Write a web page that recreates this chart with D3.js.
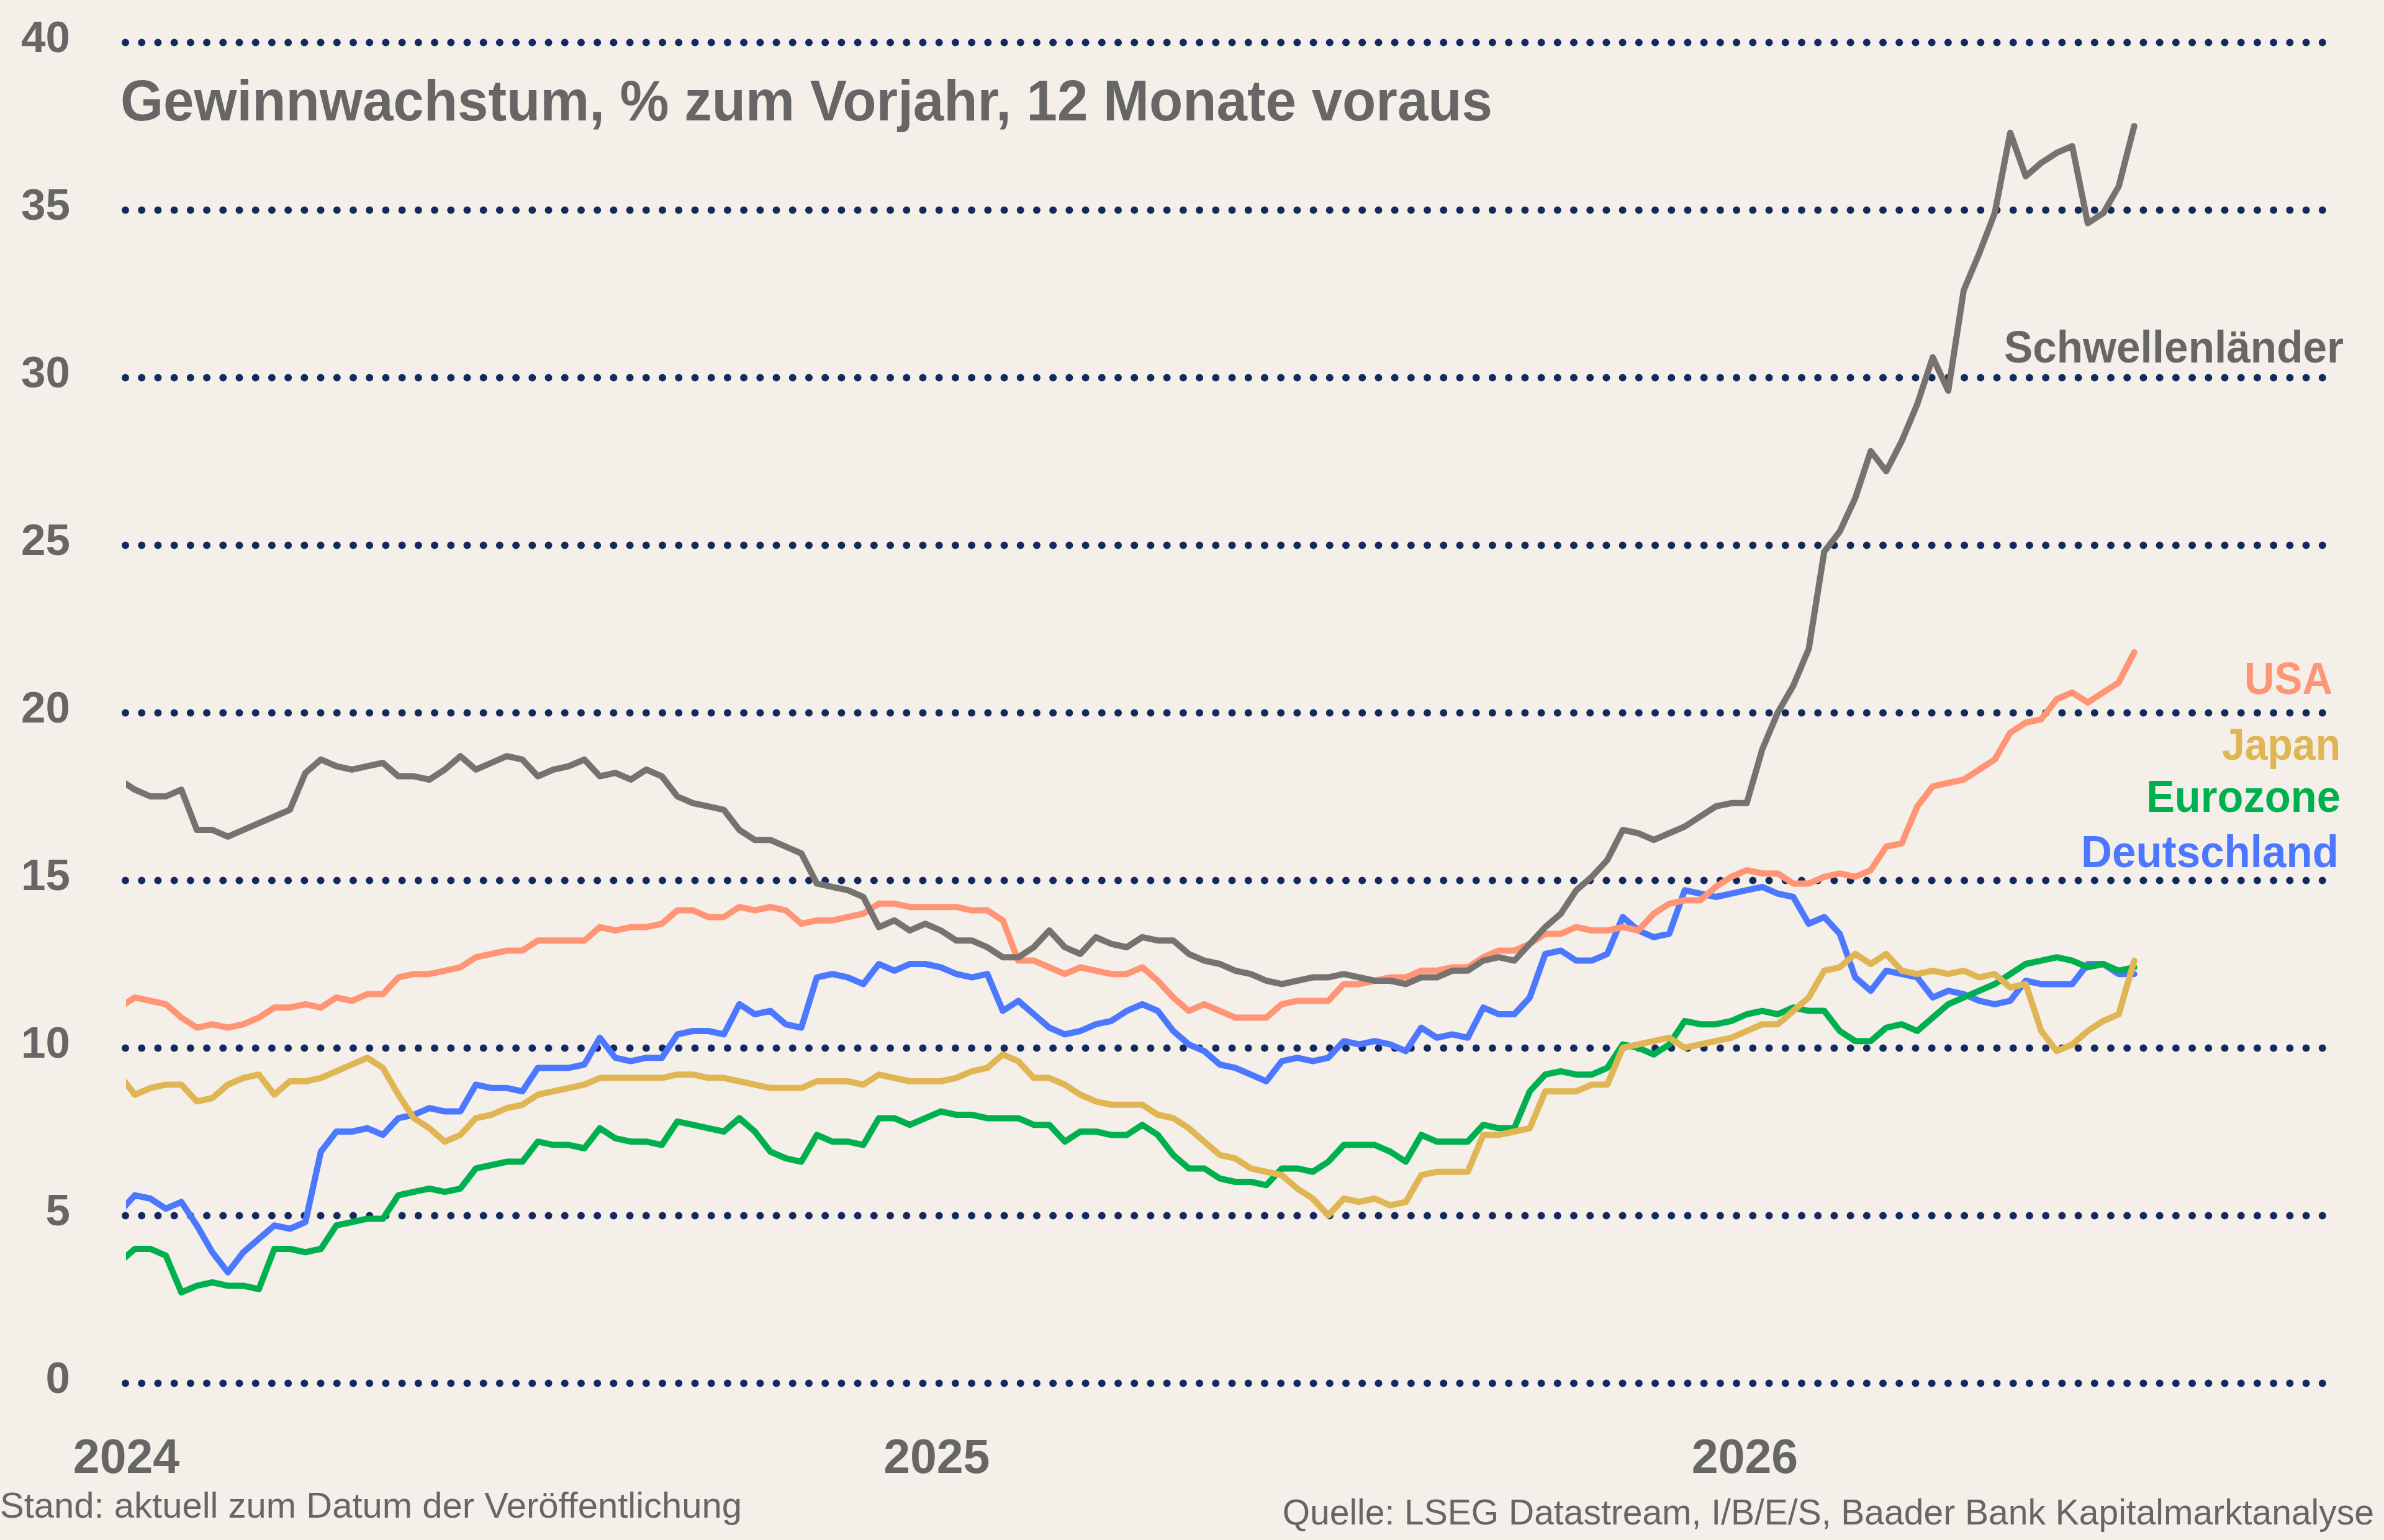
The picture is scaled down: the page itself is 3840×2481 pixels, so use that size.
<!DOCTYPE html>
<html>
<head>
<meta charset="utf-8">
<script src="https://cdn.jsdelivr.net/npm/d3@7"></script>
<style>
body {margin: 0; background: #f5efe9;}
svg {display: block;}
</style>
</head>
<body>
<div id="canvas"></div>
<script>
// Display variables
var total_width = 3840
var total_height = 2481
var plot_left = 202, plot_right = 3767, plot_top = 68, plot_bottom = 2228
var font = "'Liberation Sans', Arial, Helvetica, sans-serif"
var text_colour = "#666666"
var grid_colour = "#132a5e"
var bg_colour = "#f5efe9"
var line_width = 10
var dot_size = 12
var dot_spacing = 26.2

// Data variables (weekly readings, Fridays)
var first_week = new Date(2023, 11, 29)
var last_week = new Date(2026, 5, 26)
var year_ticks = [new Date(2024, 0, 1), new Date(2025, 0, 1), new Date(2026, 0, 1)]
var y_ticks = [0, 5, 10, 15, 20, 25, 30, 35, 40]
var series_names = ["Deutschland", "Eurozone", "Japan", "USA", "Schwellenländer"] // drawing order
var legend_names = ["Schwellenländer", "USA", "Japan", "Eurozone", "Deutschland"]

var schwellenlaender = [18.0,17.7,17.5,17.5,17.7,16.5,16.5,16.3,16.5,16.7, 16.9,17.1,18.2,18.6,18.4,18.3,18.4,18.5,18.1,18.1,
    18.0,18.3,18.7,18.3,18.5,18.7,18.6,18.1,18.3,18.4, 18.6,18.1,18.2,18.0,18.3,18.1,17.5,17.3,17.2,17.1,
    16.5,16.2,16.2,16.0,15.8,14.9,14.8,14.7,14.5,13.6, 13.8,13.5,13.7,13.5,13.2,13.2,13.0,12.7,12.7,13.0,
    13.5,13.0,12.8,13.3,13.1,13.0,13.3,13.2,13.2,12.8, 12.6,12.5,12.3,12.2,12.0,11.9,12.0,12.1,12.1,12.2,
    12.1,12.0,12.0,11.9,12.1,12.1,12.3,12.3,12.6,12.7, 12.6,13.1,13.6,14.0,14.7,15.1,15.6,16.5,16.4,16.2,
    16.4,16.6,16.9,17.2,17.3,17.3,18.9,20.0,20.8,21.9, 24.8,25.4,26.4,27.8,27.2,28.1,29.2,30.6,29.6,32.6,
    33.7,34.9,37.3,36.0,36.4,36.7,36.9,34.6,34.9,35.7, 37.5]
var usa = [11.2,11.5,11.4,11.3,10.9,10.6,10.7,10.6,10.7,10.9, 11.2,11.2,11.3,11.2,11.5,11.4,11.6,11.6,12.1,12.2,
    12.2,12.3,12.4,12.7,12.8,12.9,12.9,13.2,13.2,13.2, 13.2,13.6,13.5,13.6,13.6,13.7,14.1,14.1,13.9,13.9,
    14.2,14.1,14.2,14.1,13.7,13.8,13.8,13.9,14.0,14.3, 14.3,14.2,14.2,14.2,14.2,14.1,14.1,13.8,12.6,12.6,
    12.4,12.2,12.4,12.3,12.2,12.2,12.4,12.0,11.5,11.1, 11.3,11.1,10.9,10.9,10.9,11.3,11.4,11.4,11.4,11.9,
    11.9,12.0,12.1,12.1,12.3,12.3,12.4,12.4,12.7,12.9, 12.9,13.1,13.4,13.4,13.6,13.5,13.5,13.6,13.5,14.0,
    14.3,14.4,14.4,14.8,15.1,15.3,15.2,15.2,14.9,14.9, 15.1,15.2,15.1,15.3,16.0,16.1,17.2,17.8,17.9,18.0,
    18.3,18.6,19.4,19.7,19.8,20.4,20.6,20.3,20.6,20.9, 21.8]
var japan = [9.2,8.6,8.8,8.9,8.9,8.4,8.5,8.9,9.1,9.2, 8.6,9.0,9.0,9.1,9.3,9.5,9.7,9.4,8.6,7.9,
    7.6,7.2,7.4,7.9,8.0,8.2,8.3,8.6,8.7,8.8, 8.9,9.1,9.1,9.1,9.1,9.1,9.2,9.2,9.1,9.1,
    9.0,8.9,8.8,8.8,8.8,9.0,9.0,9.0,8.9,9.2, 9.1,9.0,9.0,9.0,9.1,9.3,9.4,9.8,9.6,9.1,
    9.1,8.9,8.6,8.4,8.3,8.3,8.3,8.0,7.9,7.6, 7.2,6.8,6.7,6.4,6.3,6.2,5.8,5.5,5.0,5.5,
    5.4,5.5,5.3,5.4,6.2,6.3,6.3,6.3,7.4,7.4, 7.5,7.6,8.7,8.7,8.7,8.9,8.9,10.0,10.1,10.2,
    10.3,10.0,10.1,10.2,10.3,10.5,10.7,10.7,11.1,11.5, 12.3,12.4,12.8,12.5,12.8,12.3,12.2,12.3,12.2,12.3,
    12.1,12.2,11.8,11.9,10.5,9.9,10.1,10.5,10.8,11.0, 12.6]
var eurozone = [3.6,4.0,4.0,3.8,2.7,2.9,3.0,2.9,2.9,2.8, 4.0,4.0,3.9,4.0,4.7,4.8,4.9,4.9,5.6,5.7,
    5.8,5.7,5.8,6.4,6.5,6.6,6.6,7.2,7.1,7.1, 7.0,7.6,7.3,7.2,7.2,7.1,7.8,7.7,7.6,7.5,
    7.9,7.5,6.9,6.7,6.6,7.4,7.2,7.2,7.1,7.9, 7.9,7.7,7.9,8.1,8.0,8.0,7.9,7.9,7.9,7.7,
    7.7,7.2,7.5,7.5,7.4,7.4,7.7,7.4,6.8,6.4, 6.4,6.1,6.0,6.0,5.9,6.4,6.4,6.3,6.6,7.1,
    7.1,7.1,6.9,6.6,7.4,7.2,7.2,7.2,7.7,7.6, 7.6,8.7,9.2,9.3,9.2,9.2,9.4,10.1,10.0,9.8,
    10.1,10.8,10.7,10.7,10.8,11.0,11.1,11.0,11.2,11.1, 11.1,10.5,10.2,10.2,10.6,10.7,10.5,10.9,11.3,11.5,
    11.7,11.9,12.2,12.5,12.6,12.7,12.6,12.4,12.5,12.3, 12.4]
var deutschland = [5.1,5.6,5.5,5.2,5.4,4.7,3.9,3.3,3.9,4.3, 4.7,4.6,4.8,6.9,7.5,7.5,7.6,7.4,7.9,8.0,
    8.2,8.1,8.1,8.9,8.8,8.8,8.7,9.4,9.4,9.4, 9.5,10.3,9.7,9.6,9.7,9.7,10.4,10.5,10.5,10.4,
    11.3,11.0,11.1,10.7,10.6,12.1,12.2,12.1,11.9,12.5, 12.3,12.5,12.5,12.4,12.2,12.1,12.2,11.1,11.4,11.0,
    10.6,10.4,10.5,10.7,10.8,11.1,11.3,11.1,10.5,10.1, 9.9,9.5,9.4,9.2,9.0,9.6,9.7,9.6,9.7,10.2,
    10.1,10.2,10.1,9.9,10.6,10.3,10.4,10.3,11.2,11.0, 11.0,11.5,12.8,12.9,12.6,12.6,12.8,13.9,13.5,13.3,
    13.4,14.7,14.6,14.5,14.6,14.7,14.8,14.6,14.5,13.7, 13.9,13.4,12.1,11.7,12.3,12.2,12.1,11.5,11.7,11.6,
    11.4,11.3,11.4,12.0,11.9,11.9,11.9,12.5,12.5,12.2, 12.2]

var series_values = {"Schwellenländer": schwellenlaender, "USA": usa, "Japan": japan, "Eurozone": eurozone, "Deutschland": deutschland}
var series_colours = {"Schwellenländer": "#767270", "USA": "#ff9575", "Japan": "#e0b553", "Eurozone": "#00b04f", "Deutschland": "#4c78ff"}
var label_colours = {"Schwellenländer": "#666666", "USA": "#ff9575", "Japan": "#e0b553", "Eurozone": "#00b04f", "Deutschland": "#4c78ff"}
// Label layout: baseline y, right edge, width
var label_layout = {
    "Schwellenländer": {y: 584, right: 3775, w: 547},
    "USA": {y: 1118, right: 3757, w: 142},
    "Japan": {y: 1224, right: 3770, w: 191},
    "Eurozone": {y: 1308, right: 3770, w: 313},
    "Deutschland": {y: 1397, right: 3767, w: 415}
}

var weeks = d3.timeFriday.range(first_week, d3.timeDay.offset(last_week, 1))

// ==================================================================================
// AXES

var svg = d3.select("#canvas").append("svg")
    .attr("width", total_width).attr("height", total_height)
    .style("background", bg_colour)
    .attr("font-family", font)

var x = d3.scaleTime().domain([year_ticks[0], year_ticks[2]]).range([203, 2810])
var y = d3.scaleLinear().domain([0, 40]).range([plot_bottom, plot_top])

// Dotted gridlines with labels
var grid_len = plot_right - plot_left
var gap = grid_len / Math.round(grid_len / dot_spacing)
var y_axis = svg.append("g")
    .attr("transform", "translate(" + plot_left + ",0)")
    .call(d3.axisLeft(y).tickValues(y_ticks).tickSize(-grid_len).tickPadding(89))
y_axis.select(".domain").remove()
y_axis.selectAll(".tick line")
    .attr("stroke", grid_colour)
    .attr("stroke-width", dot_size)
    .attr("stroke-linecap", "round")
    .attr("stroke-dasharray", "0 " + gap)
y_axis.selectAll(".tick text")
    .attr("fill", text_colour)
    .attr("font-size", 71)
    .attr("font-weight", "bold")
    .attr("dy", "0.22em")

var x_axis = svg.append("g")
    .attr("transform", "translate(0," + plot_bottom + ")")
    .call(d3.axisBottom(x).tickValues(year_ticks).tickFormat(d3.timeFormat("%Y")).tickSize(0).tickPadding(90))
x_axis.select(".domain").remove()
x_axis.selectAll(".tick text")
    .attr("fill", text_colour)
    .attr("font-size", 77)
    .attr("font-weight", "bold")

// ==================================================================================
// LINES

svg.append("defs").append("clipPath").attr("id", "clip")
    .append("rect")
    .attr("x", x(year_ticks[0])).attr("y", 0)
    .attr("width", total_width).attr("height", total_height)

var line = d3.line()
    .x((d, i) => x(weeks[i]))
    .y(d => y(d))

var line_group = svg.append("g").attr("clip-path", "url(#clip)")
line_group.selectAll(".series")
    .data(series_names)
    .enter().append("path")
    .attr("class", "series")
    .attr("d", name => line(series_values[name]))
    .attr("fill", "none")
    .attr("stroke", name => series_colours[name])
    .attr("stroke-width", line_width)
    .attr("stroke-linejoin", "round")
    .attr("stroke-linecap", "round")

// Series labels
svg.selectAll(".series_label")
    .data(legend_names)
    .enter().append("text")
    .attr("class", "series_label")
    .attr("x", name => label_layout[name].right)
    .attr("y", name => label_layout[name].y)
    .attr("text-anchor", "end")
    .attr("font-size", 73)
    .attr("font-weight", "bold")
    .attr("fill", name => label_colours[name])
    .attr("textLength", name => label_layout[name].w)
    .attr("lengthAdjust", "spacingAndGlyphs")
    .text(name => name)

// ==================================================================================
// TITLE AND NOTES

svg.append("text")
    .attr("x", 194).attr("y", 194)
    .attr("font-size", 93)
    .attr("font-weight", "bold")
    .attr("fill", text_colour)
    .attr("textLength", 2210)
    .attr("lengthAdjust", "spacingAndGlyphs")
    .text("Gewinnwachstum, % zum Vorjahr, 12 Monate voraus")

svg.append("text")
    .attr("x", 0).attr("y", 2445)
    .attr("font-size", 58)
    .attr("fill", text_colour)
    .text("Stand: aktuell zum Datum der Veröffentlichung")

svg.append("text")
    .attr("x", 3824).attr("y", 2456)
    .attr("text-anchor", "end")
    .attr("font-size", 57)
    .attr("fill", text_colour)
    .text("Quelle: LSEG Datastream, I/B/E/S, Baader Bank Kapitalmarktanalyse")
</script>
</body>
</html>
